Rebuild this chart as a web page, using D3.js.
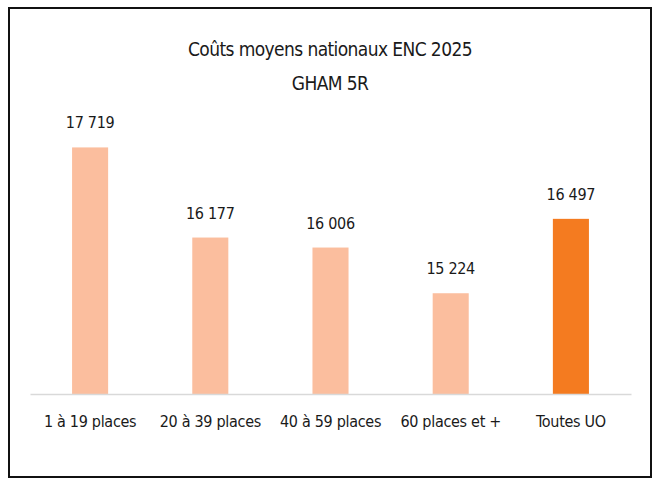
<!DOCTYPE html>
<html lang="fr">
<head>
  <meta charset="UTF-8">
  <title>Coûts moyens nationaux ENC 2025</title>
  <script src="https://d3js.org/d3.v7.min.js"></script>
  <style>
    * { margin: 0; padding: 0; box-sizing: border-box; }
    body { background: #fff; }
    svg text { font-family: "DejaVu Sans Condensed", "Liberation Sans Narrow", sans-serif; letter-spacing: -0.3px; }
  </style>
</head>
<body>
  <div id="chart"></div>
  <script>
    // données
    const categories = ["1 à 19 places", "20 à 39 places", "40 à 59 places", "60 places et +", "Toutes UO"];
    const values = [17719, 16177, 16006, 15224, 16497];
    const titleLines = ["Coûts moyens nationaux ENC 2025", "GHAM 5R"];

    const W = 654, H = 479;
    const margin = {top: 131, right: 23, bottom: 85, left: 30};

    const svg = d3.select("#chart").append("svg")
      .attr("width", W).attr("height", H);

    // cadre
    svg.append("rect")
      .attr("x", 9).attr("y", 8)
      .attr("width", 642).attr("height", 469)
      .attr("fill", "white")
      .attr("stroke", "#111").attr("stroke-width", 2);

    const x = d3.scaleBand()
      .domain(categories)
      .range([margin.left, W - margin.right])
      .paddingInner(0.7)
      .paddingOuter(0.35);

    const y = d3.scaleLinear()
      .domain([13500, 18000])
      .range([H - margin.bottom, margin.top]);

    const fmt = v => d3.format(",")(v).replace(",", " ");

    // titre
    svg.selectAll(".title")
      .data(titleLines)
      .enter().append("text")
      .attr("x", 330)
      .attr("y", (d, i) => 56 + i * 34)
      .attr("text-anchor", "middle")
      .style("font-size", "19px")
      .style("letter-spacing", "-0.6px")
      .style("fill", "#1a1a1a")
      .text(d => d);

    // barres
    svg.selectAll(".bar")
      .data(values)
      .enter().append("rect")
      .attr("class", "bar")
      .attr("x", (d, i) => x(categories[i]))
      .attr("y", d => y(d))
      .attr("width", x.bandwidth())
      .attr("height", d => y(13500) - y(d))
      .attr("fill", (d, i) => i === 4 ? "#F47B20" : "#FBBE9E");

    // axe x
    const xAxis = svg.append("g")
      .attr("transform", `translate(0,${H - margin.bottom})`)
      .call(d3.axisBottom(x).tickSize(0).tickPadding(22));
    xAxis.select(".domain").attr("stroke", "#d9d9d9").attr("stroke-width", 1.5);
    xAxis.selectAll("text")
      .attr("font-family", null)
      .style("font-size", "16px")
      .style("fill", "#1a1a1a");

    // étiquettes
    svg.selectAll(".label")
      .data(values)
      .enter().append("text")
      .attr("x", (d, i) => x(categories[i]) + x.bandwidth() / 2)
      .attr("y", d => y(d) - 19)
      .attr("text-anchor", "middle")
      .style("font-size", "16px")
      .style("fill", "#1a1a1a")
      .text(d => fmt(d));
  </script>
</body>
</html>
